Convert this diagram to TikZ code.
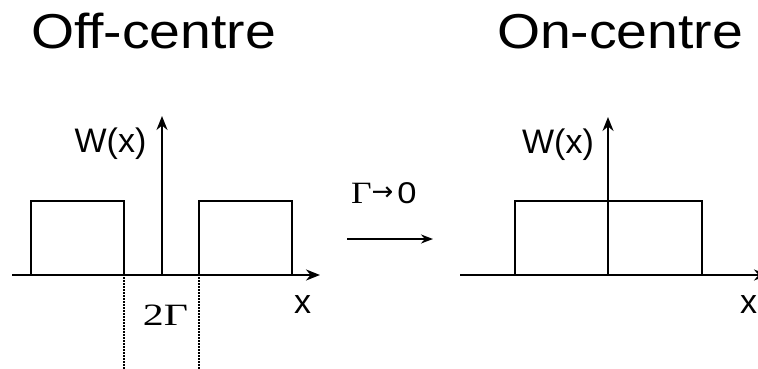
\documentclass[tikz,border=0pt]{standalone}
\usepackage{fontspec}
\setmainfont{Liberation Sans}
\newfontfamily\titlefont{Liberation Sans}[FakeStretch=1.13]
\newfontfamily\serifst{Liberation Serif}
\newfontfamily\arrowfont{DejaVu Sans}
\usetikzlibrary{arrows.meta}
\begin{document}
\begin{tikzpicture}[x=1pt,y=-1pt,line width=2pt,
  ax/.style={-{Stealth[length=14pt,width=11pt]}},
  lbl/.style={inner sep=0pt,anchor=base,font=\fontsize{34}{40}\selectfont},
  ttl/.style={inner sep=0pt,anchor=base west,font=\titlefont\fontsize{49}{58}\selectfont},
  dotl/.style={line width=2pt,dash pattern=on 1.8pt off 1.2pt}]
\useasboundingbox (0,0) rectangle (758,369);
% titles
\node[ttl] (t1) at (30,49) {Off-centre};
\node[ttl] (t2) at (496,49) {On-centre};
% left plot
\coordinate (lxa) at (12,275); \coordinate (lxb) at (320,275);
\coordinate (lya) at (162,275); \coordinate (lyb) at (162,116);
\draw[ax] (lxa) -- (lxb);
\draw[ax] (lya) -- (lyb);
\draw (31,275) rectangle (124,201);
\draw (199,275) rectangle (292,201);
\coordinate (d1a) at (124,277); \coordinate (d1b) at (124,369);
\coordinate (d2a) at (199,277); \coordinate (d2b) at (199,369);
\draw[dotl] (d1a) -- (d1b);
\draw[dotl] (d2a) -- (d2b);
\node[lbl] (w1) at (110.5,152) {W(x)};
\node[lbl] (x1) at (302.5,313) {x};
\node[lbl,font=\serifst\fontsize{31}{36}\selectfont] (g1) at (165.5,325) {\scalebox{1.35}[1]{2Γ}};
% transition
\node[inner sep=0pt,anchor=base west,font=\fontsize{30}{36}\selectfont] (lim) at (350,203)
  {{\serifst\fontsize{31}{36}\selectfont\scalebox{1.15}[1]{Γ}}{\arrowfont\fontsize{26}{30}\selectfont\raisebox{3pt}{→}}\kern4pt\scalebox{1.15}[1]{0}};
\coordinate (aa) at (347,239); \coordinate (ab) at (433,239);
\draw[-{Stealth[length=12pt,width=9pt]}] (aa) -- (ab);
% right plot
\coordinate (rxa) at (460,275); \coordinate (rxb) at (768,275);
\coordinate (rya) at (608,275); \coordinate (ryb) at (608,117);
\draw[ax] (rxa) -- (rxb);
\draw[ax] (rya) -- (ryb);
\draw (515,275) rectangle (702,201);
\node[lbl] (w2) at (558,153) {W(x)};
\node[lbl] (x2) at (748.5,313) {x};
\end{tikzpicture}
\end{document}
